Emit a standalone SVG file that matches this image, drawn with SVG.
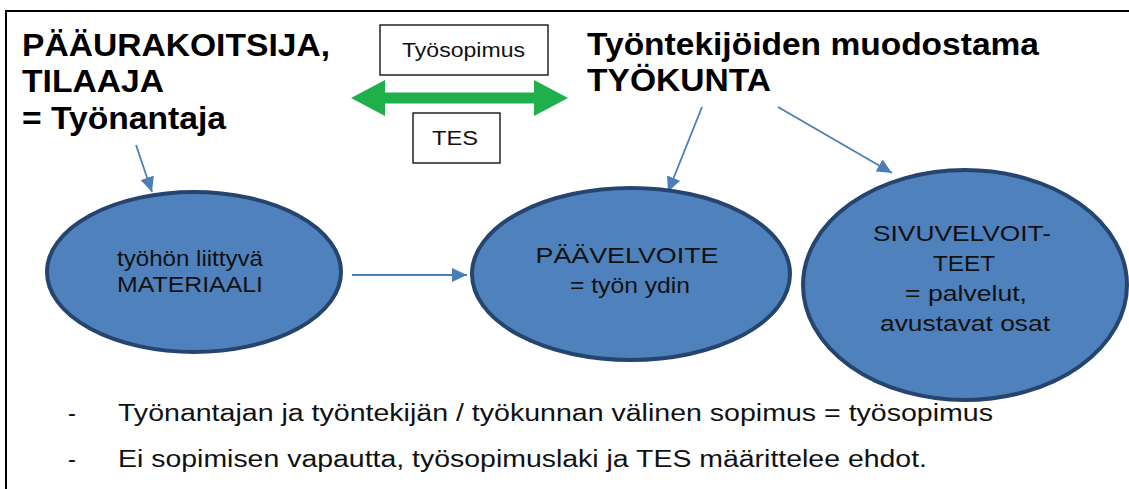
<svg xmlns="http://www.w3.org/2000/svg" width="1129" height="489" viewBox="0 0 1129 489">
  <style>
    text { font-family: "Liberation Sans", Arial, sans-serif; fill: #111; }
    .title { font-size: 32px; font-weight: bold; fill: #000; }
    .box { fill: #fff; stroke: #000; stroke-width: 1.3; }
    .boxtxt { font-size: 20px; }
    .node { fill: #4f81bd; stroke: #25446e; stroke-width: 4; }
    .ntxt { font-size: 22.5px; text-anchor: middle; }
    .edge { stroke: #4a7ebb; stroke-width: 1.8; fill: none; }
    .bullet { font-size: 23.5px; }
  </style>
  <defs>
    <marker id="head" markerUnits="userSpaceOnUse" markerWidth="16" markerHeight="14" refX="15" refY="7" orient="auto">
      <path d="M0,0 L15,7 L0,14 Z" fill="#4a7ebb"/>
    </marker>
  </defs>

  <rect width="1129" height="489" fill="#fff"/>

  <!-- frame (left and top edges) -->
  <path d="M6,489 V11 H1129" fill="none" stroke="#000" stroke-width="2"/>

  <!-- parties -->
  <g id="employer">
    <text class="title" x="22" y="56" textLength="308" lengthAdjust="spacingAndGlyphs">PÄÄURAKOITSIJA,</text>
    <text class="title" x="22" y="92" textLength="142" lengthAdjust="spacingAndGlyphs">TILAAJA</text>
    <text class="title" x="22" y="129" textLength="204" lengthAdjust="spacingAndGlyphs">= Työnantaja</text>
  </g>
  <g id="workforce">
    <text class="title" x="587" y="55" textLength="452" lengthAdjust="spacingAndGlyphs">Työntekijöiden muodostama</text>
    <text class="title" x="587" y="91" textLength="184" lengthAdjust="spacingAndGlyphs">TYÖKUNTA</text>
  </g>

  <!-- agreement between the parties -->
  <g id="agreement">
    <polygon points="351,98 385,80 385,92.5 534,92.5 534,80 568,98 534,116 534,103.5 385,103.5 385,116" fill="#20b04b"/>
    <rect class="box" x="380" y="25" width="168" height="50"/>
    <text class="boxtxt" x="402" y="57" textLength="123" lengthAdjust="spacingAndGlyphs">Työsopimus</text>
    <rect class="box" x="413" y="113" width="87" height="50"/>
    <text class="boxtxt" x="432" y="145" textLength="46" lengthAdjust="spacingAndGlyphs">TES</text>
  </g>

  <!-- connectors -->
  <g id="connectors">
    <line class="edge" x1="136" y1="145" x2="152" y2="192" marker-end="url(#head)"/>
    <line class="edge" x1="352" y1="275" x2="467" y2="275" marker-end="url(#head)"/>
    <line class="edge" x1="702" y1="107" x2="668" y2="192" marker-end="url(#head)"/>
    <line class="edge" x1="778" y1="107" x2="892" y2="173" marker-end="url(#head)"/>
  </g>

  <!-- obligations -->
  <g id="material">
    <ellipse class="node" cx="194" cy="272" rx="147" ry="80"/>
    <text class="ntxt" x="190" y="266" textLength="146" lengthAdjust="spacingAndGlyphs">työhön liittyvä</text>
    <text class="ntxt" x="190" y="292" textLength="146" lengthAdjust="spacingAndGlyphs">MATERIAALI</text>
  </g>
  <g id="main-obligation">
    <ellipse class="node" cx="631" cy="274" rx="159" ry="86"/>
    <text class="ntxt" x="627" y="263" textLength="183" lengthAdjust="spacingAndGlyphs">PÄÄVELVOITE</text>
    <text class="ntxt" x="630" y="293" textLength="120" lengthAdjust="spacingAndGlyphs">= työn ydin</text>
  </g>
  <g id="side-obligations">
    <ellipse class="node" cx="965" cy="285" rx="162" ry="115"/>
    <text class="ntxt" x="962" y="241" textLength="178" lengthAdjust="spacingAndGlyphs">SIVUVELVOIT-</text>
    <text class="ntxt" x="964" y="271" textLength="62" lengthAdjust="spacingAndGlyphs">TEET</text>
    <text class="ntxt" x="966" y="301" textLength="122" lengthAdjust="spacingAndGlyphs">= palvelut,</text>
    <text class="ntxt" x="965" y="331" textLength="170" lengthAdjust="spacingAndGlyphs">avustavat osat</text>
  </g>

  <!-- notes -->
  <g id="notes">
    <text class="bullet" x="68" y="421">-</text>
    <text class="bullet" x="118" y="421" textLength="875" lengthAdjust="spacingAndGlyphs">Työnantajan ja työntekijän / työkunnan välinen sopimus = työsopimus</text>
    <text class="bullet" x="68" y="467">-</text>
    <text class="bullet" x="118" y="467" textLength="809" lengthAdjust="spacingAndGlyphs">Ei sopimisen vapautta, työsopimuslaki ja TES määrittelee ehdot.</text>
  </g>
</svg>
